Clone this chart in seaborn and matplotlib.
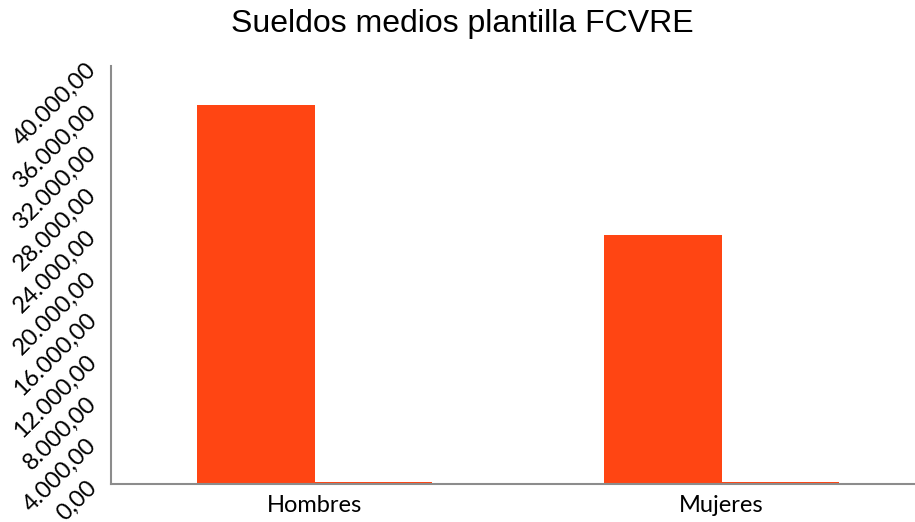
import matplotlib
matplotlib.use("Agg")
import matplotlib.pyplot as plt
import seaborn as sns
import pandas as pd

categories = ["Hombres", "Mujeres"]
series_names = ["Sueldo medio", "Otro"]
sueldo_medio = [36300, 23800]
otro = [160, 160]
yticks = [0, 4000, 8000, 12000, 16000, 20000, 24000, 28000, 32000, 36000, 40000]
title = "Sueldos medios plantilla FCVRE"

df = pd.DataFrame({
    "cat": categories * 2,
    "serie": [series_names[0]] * 2 + [series_names[1]] * 2,
    "valor": sueldo_medio + otro,
})

sns.set_theme(style="white")
plt.rcParams["font.family"] = ["Lato", "DejaVu Sans"]

W, H = 915, 522
fig = plt.figure(figsize=(W / 100, H / 100), dpi=100)
left, right, top, bottom = 111, 925, 66, 484
ax = fig.add_axes([left / W, 1 - bottom / H, (right - left) / W, (bottom - top) / H])

color = "#FF4513"
sns.barplot(data=df, x="cat", y="valor", hue="serie", order=categories,
            hue_order=series_names, palette=[color, color], width=0.575,
            saturation=1, ax=ax, legend=False, linewidth=0)

ax.set_ylim(0, 40000)
ax.set_xlim(-0.5, 1.5)
ax.set_yticks(yticks)

def fmt(v):
    s = f"{v:,.2f}"
    return s.replace(",", "X").replace(".", ",").replace("X", ".")

ax.set_yticklabels([fmt(v) for v in yticks])
for lab in ax.get_yticklabels():
    lab.set_rotation(45)
    lab.set_ha("right")
    lab.set_va("center")
    lab.set_rotation_mode("anchor")
    lab.set_fontsize(17)
    lab.set_color("black")
for lab in ax.get_xticklabels():
    lab.set_fontsize(17)
    lab.set_color("black")

ax.tick_params(axis="y", length=0, pad=13)
ax.tick_params(axis="x", length=0, pad=8)
ax.set_xlabel("")
ax.set_ylabel("")
for s in ["top", "right"]:
    ax.spines[s].set_visible(False)
for s in ["left", "bottom"]:
    ax.spines[s].set_color("#8c8c8c")
    ax.spines[s].set_linewidth(1.5)
ax.spines["bottom"].set_zorder(1)
ax.grid(False)

fig.text(462 / W, 1 - 24 / H, title, ha="center", va="center",
         fontsize=23, family=["Liberation Sans", "DejaVu Sans"], color="black")

fig.savefig("out.png", dpi=100)
